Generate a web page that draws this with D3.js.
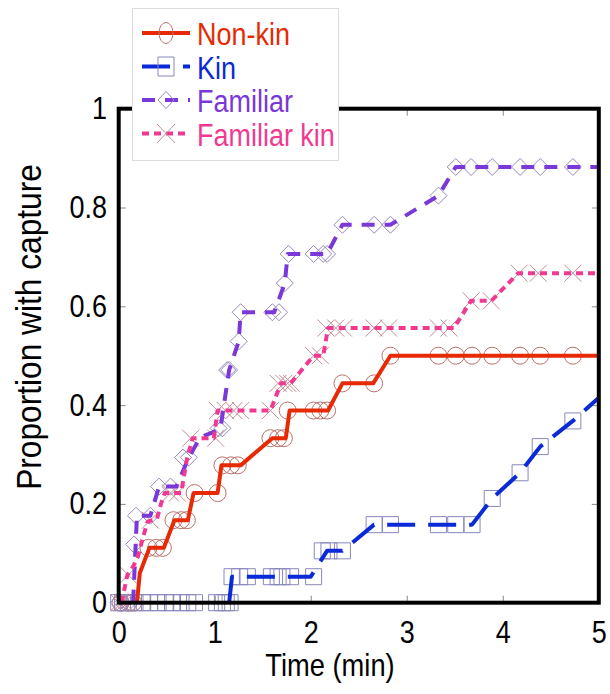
<!DOCTYPE html>
<html><head><meta charset="utf-8">
<script src="https://cdn.jsdelivr.net/npm/d3@7"></script>
<style>body{margin:0;background:#fff} svg{display:block} text{font-family:"Liberation Sans",Arial,sans-serif}</style>
</head><body><svg id="c" width="610" height="694"></svg>
<script>
// ---------- data ----------
const xTickValues = [0, 1, 2, 3, 4, 5];
const xTickLabels = ["0", "1", "2", "3", "4", "5"];
const yTickValues = [0, 0.2, 0.4, 0.6, 0.8, 1];
const yTickLabels = ["0", "0.2", "0.4", "0.6", "0.8", "1"];
const seriesNames = ["Non-kin", "Kin", "Familiar", "Familiar kin"];
const xTitle = "Time (min)";
const yTitle = "Proportion with capture";

const nonKinLine = [[0.19,0],[0.22,0.06],[0.32,0.111],[0.47,0.111],[0.58,0.167],[0.72,0.167],[0.78,0.222],[1.03,0.222],[1.07,0.278],[1.27,0.278],[1.60,0.333],[1.74,0.333],[1.78,0.389],[2.18,0.389],[2.33,0.444],[2.65,0.444],[2.83,0.5],[5,0.5]];
const nonKinMarks = [[0.02,0],[0.1,0],[0.15,0],[0.31,0.111],[0.39,0.111],[0.46,0.111],[0.57,0.167],[0.65,0.167],[0.71,0.167],[0.79,0.222],[1.03,0.222],[1.08,0.278],[1.17,0.278],[1.24,0.278],[1.58,0.333],[1.66,0.333],[1.72,0.333],[1.76,0.389],[2.03,0.389],[2.10,0.389],[2.17,0.389],[2.33,0.444],[2.66,0.444],[2.83,0.5],[3.33,0.5],[3.51,0.5],[3.68,0.5],[3.89,0.5],[4.18,0.5],[4.39,0.5],[4.73,0.5]];

const kinLine = [[1.15,0],[1.18,0.0526],[2.0,0.0526],[2.17,0.105],[2.33,0.105],[2.66,0.158],[3.68,0.158],[3.89,0.211],[4.18,0.263],[4.39,0.316],[4.73,0.368],[5,0.415]];
const kinMarks = [[0,0],[0.04,0],[0.1,0],[0.17,0],[0.25,0],[0.32,0],[0.41,0],[0.49,0],[0.56,0],[0.65,0],[0.72,0],[0.79,0],[1.02,0],[1.08,0],[1.12,0],[1.16,0],[1.18,0.0526],[1.26,0.0526],[1.34,0.0526],[1.59,0.0526],[1.66,0.0526],[1.70,0.0526],[1.79,0.0526],[2.03,0.0526],[2.12,0.105],[2.19,0.105],[2.33,0.105],[2.66,0.158],[2.83,0.158],[3.33,0.158],[3.51,0.158],[3.68,0.158],[3.89,0.211],[4.18,0.263],[4.39,0.316],[4.73,0.368]];

const familiarLine = [[0.15,0],[0.19,0.176],[0.33,0.176],[0.42,0.235],[0.6,0.235],[0.73,0.294],[0.85,0.335],[0.98,0.345],[1.06,0.353],[1.15,0.471],[1.25,0.529],[1.27,0.588],[1.62,0.588],[1.73,0.647],[1.76,0.706],[2.17,0.706],[2.33,0.765],[2.83,0.765],[3.33,0.824],[3.51,0.882],[5,0.882]];
const familiarMarks = [[0,0],[0.04,0],[0.1,0],[0.16,0.118],[0.18,0.176],[0.33,0.176],[0.42,0.235],[0.54,0.235],[0.67,0.294],[0.73,0.294],[1.04,0.353],[1.08,0.353],[1.13,0.471],[1.15,0.471],[1.25,0.529],[1.27,0.588],[1.6,0.588],[1.67,0.588],[1.73,0.647],[1.77,0.706],[2.03,0.706],[2.13,0.706],[2.17,0.706],[2.33,0.765],[2.66,0.765],[2.83,0.765],[3.33,0.824],[3.51,0.882],[3.67,0.882],[3.89,0.882],[4.18,0.882],[4.39,0.882],[4.73,0.882]];

const familiarKinLine = [[0.03,0],[0.09,0.056],[0.15,0.073],[0.2,0.093],[0.25,0.13],[0.3,0.164],[0.4,0.17],[0.44,0.2],[0.48,0.222],[0.65,0.222],[0.71,0.29],[0.77,0.333],[0.99,0.333],[1.03,0.389],[1.58,0.389],[1.69,0.444],[1.79,0.444],[2.03,0.5],[2.13,0.5],[2.18,0.556],[3.49,0.556],[3.67,0.611],[3.88,0.611],[4.16,0.667],[5,0.667]];
const familiarKinMarks = [[0,0],[0.03,0],[0.06,0],[0.1,0.056],[0.33,0.167],[0.54,0.222],[0.61,0.222],[0.75,0.333],[1.01,0.333],[1.03,0.389],[1.11,0.389],[1.2,0.389],[1.27,0.389],[1.58,0.389],[1.66,0.444],[1.72,0.444],[1.76,0.444],[1.8,0.444],[2.03,0.5],[2.1,0.5],[2.16,0.556],[2.26,0.556],[2.34,0.556],[2.66,0.556],[2.81,0.556],[3.33,0.556],[3.44,0.556],[3.67,0.611],[3.88,0.611],[4.17,0.667],[4.37,0.667],[4.73,0.667]];

// ---------- styles ----------
const lineColors = ["#e62a06", "#0a2ad8", "#7a38d8", "#f03a92"];
const textColors = ["#e62a06", "#0a2ad8", "#7a38d8", "#f03a92"];
const markColors = ["#b8726c", "#8888bc", "#9888bc", "#c48c96"];
const dashes = [null, "28,13", "13,10", "7,5"];
const markShapes = ["circle", "square", "diamond", "x"];
const condense = 0.87;

const svg = d3.select("#c");
const x = d3.scaleLinear().domain([0, 5]).range([118.7, 598.8]);
const y = d3.scaleLinear().domain([0, 1]).range([602.7, 108.7]);

// axes (inward ticks)
const gx = svg.append("g").attr("transform", `translate(0,${y(0)})`)
  .call(d3.axisBottom(x).tickValues(xTickValues).tickFormat((d,i)=>xTickLabels[i]).tickSizeInner(-7).tickSizeOuter(0).tickPadding(18));
const gxt = svg.append("g").attr("transform", `translate(0,${y(1)})`)
  .call(d3.axisTop(x).tickValues(xTickValues).tickFormat("").tickSizeInner(-7).tickSizeOuter(0));
const gy = svg.append("g").attr("transform", `translate(${x(0)},0)`)
  .call(d3.axisLeft(y).tickValues(yTickValues).tickFormat((d,i)=>yTickLabels[i]).tickSizeInner(-7).tickSizeOuter(0).tickPadding(13.5));
const gyr = svg.append("g").attr("transform", `translate(${x(5)},0)`)
  .call(d3.axisRight(y).tickValues(yTickValues).tickFormat("").tickSizeInner(-7).tickSizeOuter(0));
[gx, gxt, gy, gyr].forEach(g => {
  g.select(".domain").remove();
  g.selectAll(".tick line").attr("stroke", "#8a8a8a").attr("stroke-width", 1);
  g.selectAll(".tick text").attr("fill", "#000").attr("font-size", 31)
    .attr("font-family", '"Liberation Sans",Arial,sans-serif')
    .attr("transform", `scale(${condense},1)`);
});

// marker path generator
function markPath(shape, s) {
  if (shape === "circle") return `M${s},0A${s},${s} 0 1,1 ${-s},0A${s},${s} 0 1,1 ${s},0Z`;
  if (shape === "square") return `M${-s},${-s}H${s}V${s}H${-s}Z`;
  if (shape === "diamond") return `M0,${-s}L${s},0L0,${s}L${-s},0Z`;
  return `M${-s},${-s}L${s},${s}M${-s},${s}L${s},${-s}`;
}

const markSets = [nonKinMarks, kinMarks, familiarMarks, familiarKinMarks];
const lineSets = [nonKinLine, kinLine, familiarLine, familiarKinLine];
const markSize = [8.5, 8, 8.5, 8.5];

markSets.forEach((ms, i) => {
  svg.append("g").selectAll("path").data(ms).join("path")
    .attr("transform", d => `translate(${x(d[0])},${y(d[1])})`)
    .attr("d", markPath(markShapes[i], markSize[i]))
    .attr("fill", "none").attr("stroke", markColors[i]).attr("stroke-width", 1);
});

const line = d3.line().x(d => x(d[0])).y(d => y(d[1]));
lineSets.forEach((ls, i) => {
  svg.append("path").datum(ls).attr("d", line)
    .attr("fill", "none").attr("stroke", lineColors[i]).attr("stroke-width", 4)
    .attr("stroke-dasharray", dashes[i]).attr("stroke-linejoin", "round");
});

// frame
svg.append("rect").attr("x", x(0)).attr("y", y(1)).attr("width", x(5)-x(0)).attr("height", y(0)-y(1))
  .attr("fill", "none").attr("stroke", "#000").attr("stroke-width", 4);

// axis titles
svg.append("text").attr("transform", `translate(330,676) scale(0.88,1)`).attr("text-anchor", "middle")
  .attr("font-size", 31).text(xTitle);
svg.append("text").attr("transform", "translate(41,327) rotate(-90) scale(0.88,1)").attr("text-anchor", "middle")
  .attr("font-size", 36).text(yTitle);

// legend
const lg = svg.append("g");
lg.append("rect").attr("x", 132.5).attr("y", 8.5).attr("width", 206).attr("height", 152)
  .attr("fill", "#fff").attr("stroke", "#dcdcdc").attr("stroke-width", 1);
const legendMark = [[7,10.5],[8,9.5],[8,8.5],[9,9.5]];
seriesNames.forEach((name, i) => {
  const cy = 33 + i * 33.5;
  lg.append("line").attr("x1", 142).attr("x2", 190).attr("y1", cy).attr("y2", cy)
    .attr("stroke", lineColors[i]).attr("stroke-width", 4).attr("stroke-dasharray", dashes[i]);
  const [sx, sy] = legendMark[i];
  lg.append("path").attr("transform", `translate(166,${cy}) scale(${sx/10},${sy/10})`)
    .attr("d", markPath(markShapes[i], 10)).attr("fill", "none")
    .attr("stroke", markColors[i]).attr("stroke-width", 1).attr("vector-effect", "non-scaling-stroke");
  lg.append("text").attr("transform", `translate(197,${cy + 12}) scale(0.87,1)`)
    .attr("font-size", 31).attr("fill", textColors[i]).text(name);
});
</script></body></html>
